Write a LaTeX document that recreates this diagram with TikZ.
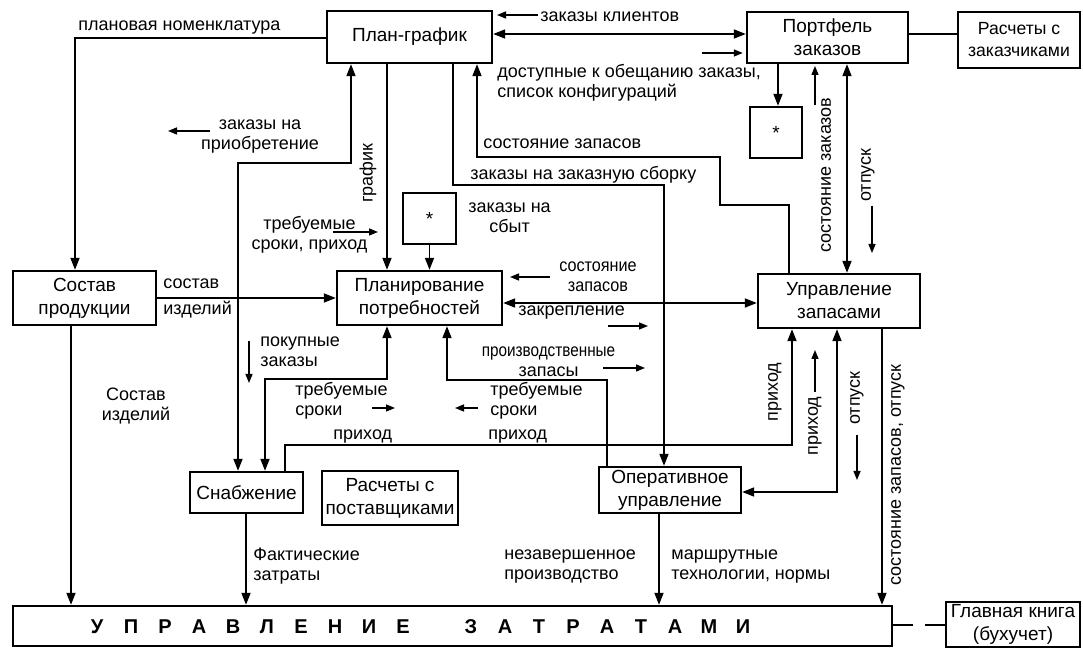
\documentclass[tikz,border=0pt]{standalone}
\usepackage{fontspec}
\setmainfont{Liberation Sans}
\usepackage{graphicx}
\usetikzlibrary{positioning, arrows.meta}

\begin{document}
\begin{tikzpicture}[
  x=0.5pt, y=-0.5pt,
  font=\fontsize{9}{10}\selectfont,
  blok/.style={rectangle, draw, line width=1.2pt, align=center, inner sep=0pt,
               font=\fontsize{9.5}{11.5}\selectfont},
  lab/.style={inner sep=0pt, align=left, font=\fontsize{9}{10}\selectfont},
  bukva/.style={inner sep=0pt, font=\fontsize{10}{11}\selectfont\bfseries},
  fwd/.style={-{Triangle[length=6pt,width=4.5pt]}, line width=0.9pt},
  dbl/.style={{Triangle[length=6pt,width=4.5pt]}-{Triangle[length=6pt,width=4.5pt]}, line width=0.9pt},
  lnk/.style={line width=0.9pt},
  hint/.style={-{Triangle[length=4.5pt,width=3.5pt]}, line width=0.7pt},
]
\useasboundingbox (0,0) rectangle (1083,651);

% blocks
\node[blok, minimum width=82.5pt, minimum height=26pt] (plan) at (409.5,37) {План-график};
\node[blok, minimum width=80.5pt, minimum height=25.5pt] (port) at (827.5,37.5) {Портфель\\заказов};
\node[blok, minimum width=61pt, minimum height=28pt, font=\fontsize{8.8}{11}\selectfont] (rasz) at (1019,40) {Расчеты с\\заказчиками};
\node[blok, minimum width=26pt, minimum height=25.5pt] (star1) at (776,132.5) {*};
\node[blok, minimum width=26.5pt, minimum height=25.5pt] (star2) at (429.5,218.5) {*};
\node[blok, minimum width=71.5pt, minimum height=27pt] (sost) at (84.5,298) {Состав\\продукции};
\node[blok, minimum width=82.5pt, minimum height=27pt] (potr) at (419.5,298) {Планирование\\потребностей};
\node[blok, minimum width=81pt, minimum height=27pt] (zap) at (839,301) {Управление\\запасами};
\node[blok, minimum width=56.5pt, minimum height=20.5pt] (snab) at (246.5,492.5) {Снабжение};
\node[blok, minimum width=68pt, minimum height=27pt] (rpost) at (390,498) {Расчеты с\\поставщиками};
\node[blok, minimum width=71pt, minimum height=23pt] (oper) at (670,490) {Оперативное\\управление};
\node[blok, minimum width=439.5pt, minimum height=20pt] (zat) at (452.5,626) {};
\node[blok, minimum width=67pt, minimum height=22.5pt] (book) at (1013,624.5) {Главная книга\\(бухучет)};

% spaced title of the cost block
\foreach \b [count=\i from 0] in {У,П,Р,А,В,Л,Е,Н,И,Е}
  \node[bukva] (zu\i) at (97+34*\i,627) {\b};
\foreach \b [count=\i from 0] in {З,А,Т,Р,А,Т,А,М,И}
  \node[bukva] (zz\i) at (471+34*\i,627) {\b};

% top row
\draw[fwd] (plan.west |- 0,38) -| (sost.north -| 75,0);
\draw[dbl] (plan.east |- 0,34) -- (port.west |- 0,34);
\draw[lnk] (port.east |- 0,34) -- (rasz.west |- 0,34);
\draw[fwd] (port.south -| 778,0) -- (star1.north -| 778,0);
\draw[dbl] (port.south -| 847,0) -- (zap.north -| 847,0);

% from / to the schedule
\draw[fwd] (zap.north -| 789,0) |- (720,205) |- (477,157) -- (plan.south -| 477,0);
\draw[fwd] (plan.south -| 453,0) |- (664,185) -- (oper.north -| 664,0);
\draw[fwd] (plan.south -| 387,0) -- (potr.north -| 387,0);
\draw[dbl] (plan.south -| 351,0) |- (238,163) -- (snab.north -| 238,0);
\draw[fwd] (star2.south) -- (potr.north -| star2.south);

% requirements planning
\draw[fwd] (sost.east) -- (potr.west);
\draw[fwd] (sost.south -| 71,0) -- (zat.north -| 71,0);
\draw[dbl] (potr.east |- 0,303) -- (zap.west |- 0,303);
\draw[dbl] (potr.south -| 387,0) |- (265,379) -- (snab.north -| 265,0);
\draw[fwd] (oper.north -| 607,0) |- (447,380) -- (potr.south -| 447,0);

% stock control
\draw[fwd] (snab.north -| 285,0) |- (792,445) -- (zap.south -| 792,0);
\draw[dbl] (zap.south -| 837,0) |- (oper.east |- 0,492);
\draw[fwd] (zap.south -| 882,0) -- (zat.north -| 882,0);

% into cost control
\draw[fwd] (snab.south -| 246,0) -- (zat.north -| 246,0);
\draw[fwd] (oper.south -| 659,0) -- (zat.north -| 659,0);
\draw[lnk, dash pattern=on 10pt off 6pt] (zat.east |- 0,625) -- (book.west |- 0,625);

% labels
\node[lab, anchor=west] (nom) at (78,28) {плановая номенклатура};
\node[lab, anchor=west] (klient) at (540,17) {заказы клиентов};
\node[lab, anchor=west] (dost) at (497,82.5) {доступные к обещанию заказы,\\список конфигураций};
\node[lab, align=center] (prior) at (260,136.5) {заказы на\\приобретение};
\node[lab, rotate=90] (graf) at (368,173) {график};
\node[lab, anchor=west] (szap2) at (483,144) {состояние запасов};
\node[lab, anchor=west] (zakaz) at (470,175) {заказы на заказную сборку};
\node[lab, rotate=90] (szak) at (826,175) {состояние заказов};
\node[lab, rotate=90] (otp1) at (868,175) {отпуск};
\node[lab, align=center] (treb1) at (309.5,234.5) {требуемые\\сроки, приход};
\node[lab, align=center] (sbyt) at (509.5,217.5) {заказы на\\сбыт};
\node[lab, anchor=west] (sizd) at (163,298.5) {состав\\[3pt]изделий};
\node[lab, align=center] (szap1) at (598,277) {\scalebox{0.9}[1]{состояние}\\\scalebox{0.9}[1]{запасов}};
\node[lab, anchor=west] (zakr) at (518,313) {закрепление};
\node[lab, align=center] (proizv) at (548.5,361.5) {\scalebox{0.85}[1]{производственные}\\запасы};
\node[lab, anchor=west] (pokup) at (260,352) {покупные\\заказы};
\node[lab, align=center] (sizd2) at (136,406.5) {Состав\\изделий};
\node[lab, anchor=west] (treb2) at (295,400.5) {требуемые\\сроки};
\node[lab, anchor=west] (treb3) at (490,400.5) {требуемые\\сроки};
\node[lab, anchor=west] (prix3) at (333,437) {приход};
\node[lab, anchor=west] (prix4) at (488,437) {приход};
\node[lab, rotate=90] (prix1) at (775,392) {приход};
\node[lab, rotate=90] (prix2) at (815,426) {приход};
\node[lab, rotate=90] (otp2) at (857,398) {отпуск};
\node[lab, rotate=90] (szo) at (898,475) {состояние запасов, отпуск};
\node[lab, anchor=west] (fakt) at (253,566.5) {Фактические\\затраты};
\node[lab, anchor=west] (nezav) at (504,566.5) {незавершенное\\производство};
\node[lab, anchor=west] (marsh) at (671,566.5) {маршрутные\\технологии, нормы};

% direction hints
\draw[hint] ([shift={(-2,-2)}]klient.west) -- ++(-41,0);
\draw[hint] ([shift={(-44,15.5)}]port.west) -- ++(41,0);
\draw[hint] ([shift={(-50,-5.5)}]prior.center) -- ++(-42,0);
\draw[hint] ([shift={(-11,-70)}]szak.center) -- ++(0,-39);
\draw[hint] ([shift={(4,31)}]otp1.center) -- ++(0,47);
\draw[hint] ([shift={(23.5,-2.5)}]treb1.center) -- ++(45,0);
\draw[hint] ([shift={(-11,-11)}]pokup.west) -- ++(0,42);
\draw[hint] ([shift={(-48,0)}]szap1.center) -- ++(-40,0);
\draw[hint] ([shift={(90,13)}]zakr.west) -- ++(40,0);
\draw[hint] ([shift={(54.5,6.5)}]proizv.center) -- ++(42,0);
\draw[hint] ([shift={(77,7.5)}]treb2.west) -- ++(23,0);
\draw[hint] ([shift={(-12,7.5)}]treb3.west) -- ++(-23,0);
\draw[hint] ([shift={(0,-34)}]prix2.center) -- ++(0,-42);
\draw[hint] ([shift={(0,37)}]otp2.center) -- ++(0,45);
\end{tikzpicture}
\end{document}
